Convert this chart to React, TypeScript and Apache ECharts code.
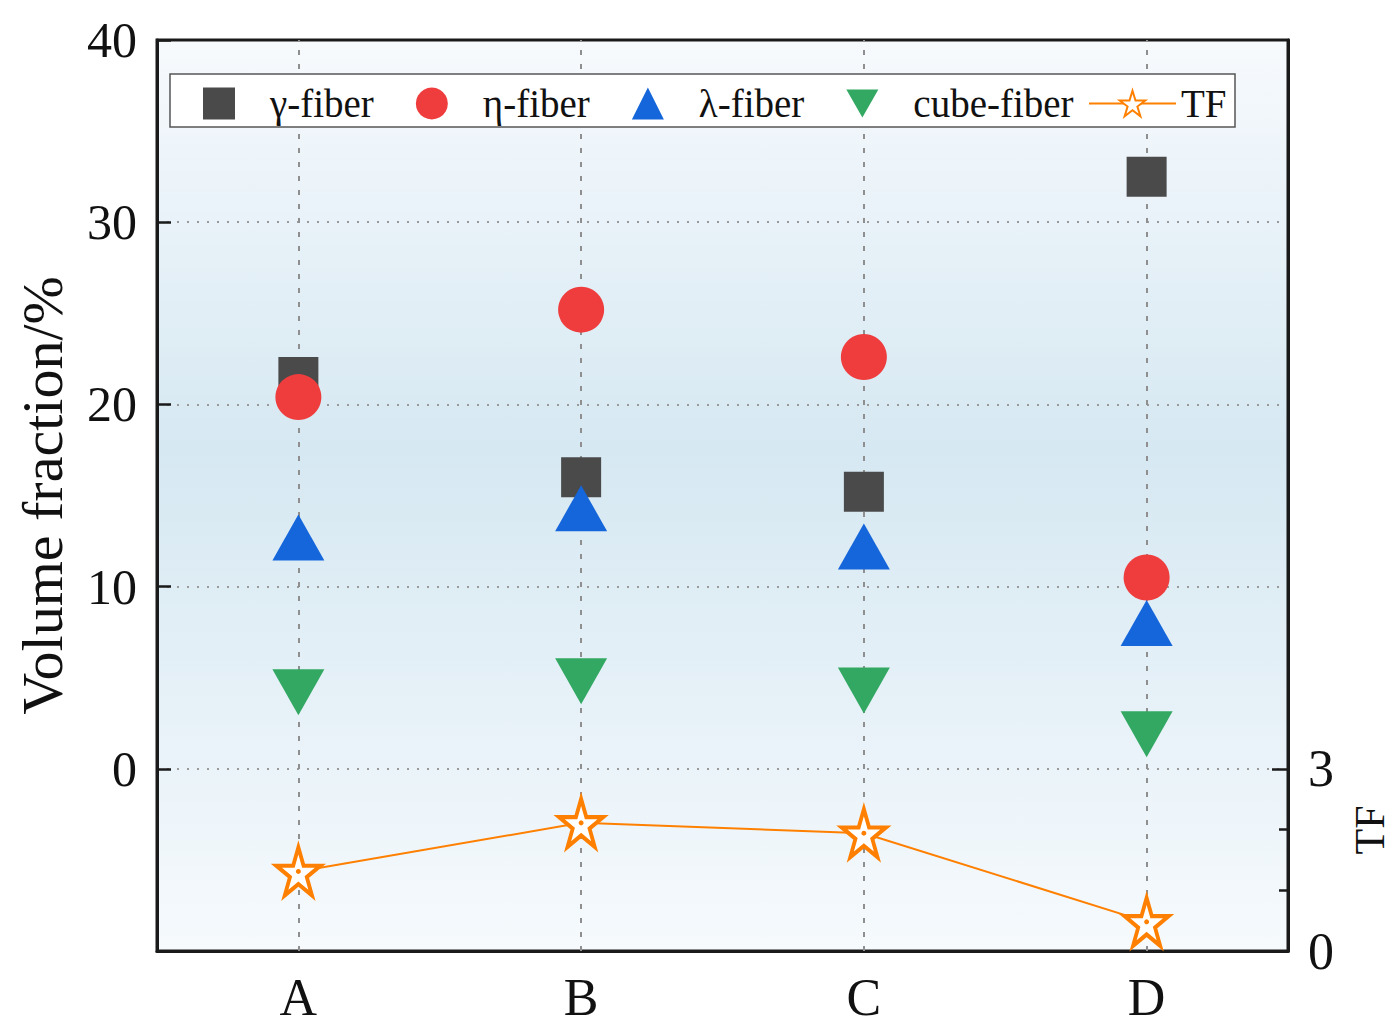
import React, { useEffect, useRef } from "react";
import * as echarts from "echarts";

const categories = ["A", "B", "C", "D"];
const gammaFiber = [21.5, 16.0, 15.2, 32.5];
const etaFiber = [20.4, 25.2, 22.6, 10.5];
const lambdaFiber = [12.7, 14.3, 12.2, 8.0];
const cubeFiber = [4.2, 4.8, 4.3, 1.9];
const tfValues = [1.31, 2.11, 1.94, 0.48];
const leftTicks = [0, 10, 20, 30, 40];
const rightTickLabels = [0, 3];
const rightMinorTicks = [1, 2];

const STAR =
  "path://M50,0 L61.2,34.5 L97.6,34.5 L68.2,55.9 L79.4,90.5 L50,69.1 L20.6,90.5 L31.8,55.9 L2.4,34.5 L38.8,34.5 Z";
const DOWN_TRI = "path://M0,0 L100,0 L50,88 Z";
const FONT = "Liberation Serif";

export default function App() {
  const ref = useRef<HTMLDivElement>(null);
  useEffect(() => {
    document.body.style.margin = "0";
    if (!ref.current) return;
    const chart = echarts.init(ref.current, null, { renderer: "svg" });
    const option: any = {
      animation: false,
      backgroundColor: "#ffffff",
      textStyle: { fontFamily: FONT },
      grid: {
        left: 157,
        right: 109,
        top: 40,
        bottom: 81,
        show: true,
        borderColor: "#1a1a1a",
        borderWidth: 3,
        backgroundColor: new echarts.graphic.LinearGradient(0, 0, 0, 1, [
          { offset: 0, color: "#f7fafd" },
          { offset: 0.45, color: "#d6e8f2" },
          { offset: 1, color: "#f6fafd" },
        ]),
      },
      legend: [
        {
          data: ["γ-fiber", "η-fiber", "λ-fiber", "cube-fiber"],
          left: 203,
          top: 84,
          padding: 0,
          orient: "horizontal",
          itemWidth: 32,
          itemHeight: 32,
          itemGap: 42,
          z: 30,
          textStyle: {
            fontFamily: FONT,
            fontSize: 39,
            color: "#111",
            padding: [0, 0, 0, 30],
          },
        },
        {
          data: ["TF"],
          left: 1088,
          top: 84,
          padding: 0,
          itemWidth: 87,
          itemHeight: 32,
          z: 30,
          textStyle: { fontFamily: FONT, fontSize: 39, color: "#111" },
        },
      ],
      xAxis: {
        type: "category",
        data: categories,
        boundaryGap: true,
        axisLine: { onZero: false, lineStyle: { color: "#1a1a1a", width: 3 } },
        axisTick: {
          alignWithLabel: true,
          inside: true,
          length: 15,
          lineStyle: { color: "#1a1a1a", width: 2.5 },
        },
        axisLabel: {
          fontFamily: FONT,
          fontSize: 52,
          color: "#111",
          margin: 20,
        },
        splitLine: { show: false },
      },
      yAxis: [
        {
          type: "value",
          min: -10,
          max: 40,
          interval: 10,
          position: "left",
          name: "Volume fraction/%",
          nameLocation: "middle",
          nameGap: 86,
          nameRotate: 90,
          nameTextStyle: { fontFamily: FONT, fontSize: 58, color: "#111" },
          axisLine: { show: true, lineStyle: { color: "#1a1a1a", width: 3 } },
          axisTick: {
            show: true,
            inside: true,
            length: 14,
            lineStyle: { color: "#1a1a1a", width: 2.5 },
          },
          axisLabel: {
            fontFamily: FONT,
            fontSize: 50,
            color: "#111",
            margin: 20,
            formatter: (v: number) => (leftTicks.includes(v) ? String(v) : ""),
          },
          splitLine: {
            show: true,
            showMinLine: false,
            showMaxLine: false,
            lineStyle: { color: "#9a9a9a", width: 2, type: [2, 8] },
          },
        },
        {
          type: "value",
          min: 0,
          max: 15,
          position: "right",
          axisLine: { show: true, lineStyle: { color: "#1a1a1a", width: 3 } },
          axisTick: {
            show: true,
            inside: true,
            length: 16,
            customValues: rightTickLabels,
            lineStyle: { color: "#1a1a1a", width: 2.5 },
          },
          axisLabel: {
            fontFamily: FONT,
            fontSize: 52,
            color: "#111",
            margin: 20,
            customValues: rightTickLabels,
          },
          splitLine: { show: false },
        },
        {
          type: "value",
          min: 0,
          max: 15,
          position: "right",
          axisLine: { show: false },
          axisTick: {
            show: true,
            inside: true,
            length: 9,
            customValues: rightMinorTicks,
            lineStyle: { color: "#1a1a1a", width: 2.5 },
          },
          axisLabel: { show: false },
          splitLine: { show: false },
        },
      ],
      graphic: [
        {
          type: "rect",
          z: 20,
          shape: { x: 170, y: 74, width: 1065, height: 53 },
          style: { fill: "#ffffff", stroke: "#555555", lineWidth: 1.5 },
        },
        {
          type: "text",
          x: 1370,
          y: 830,
          rotation: Math.PI / 2,
          style: {
            text: "TF",
            fontFamily: FONT,
            fontSize: 42,
            fill: "#111",
            align: "center",
            verticalAlign: "middle",
          },
        },
      ],
      series: [
        {
          name: "vgrid",
          type: "scatter",
          data: [],
          z: 1,
          silent: true,
          markLine: {
            silent: true,
            z: 1,
            symbol: "none",
            label: { show: false },
            lineStyle: { color: "#8f8f8f", width: 2, type: [5, 9] },
            data: categories.map((c) => ({ xAxis: c })),
          },
        },
        {
          name: "γ-fiber",
          type: "scatter",
          symbol: "rect",
          symbolSize: 40,
          itemStyle: { color: "#4a4a4a", opacity: 1 },
          data: gammaFiber,
          z: 3,
        },
        {
          name: "η-fiber",
          type: "scatter",
          symbol: "circle",
          symbolSize: 46,
          itemStyle: { color: "#ef3d3e", opacity: 1 },
          data: etaFiber,
          z: 4,
        },
        {
          name: "λ-fiber",
          type: "scatter",
          symbol: "triangle",
          symbolSize: [52, 46],
          itemStyle: { color: "#1566db", opacity: 1 },
          data: lambdaFiber,
          z: 5,
        },
        {
          name: "cube-fiber",
          type: "scatter",
          symbol: DOWN_TRI,
          symbolSize: [52, 46],
          itemStyle: { color: "#32a862", opacity: 1 },
          data: cubeFiber,
          z: 5,
        },
        {
          name: "TF",
          type: "line",
          yAxisIndex: 1,
          symbol: STAR,
          symbolSize: [44, 48],
          lineStyle: { color: "#ff8000", width: 2 },
          itemStyle: { color: "#ffffff", borderColor: "#ff8000", borderWidth: 4 },
          data: tfValues,
          z: 6,
        },
        {
          name: "TFdot",
          type: "scatter",
          yAxisIndex: 1,
          symbol: "circle",
          symbolSize: 5,
          itemStyle: { color: "#ff8000", opacity: 1 },
          data: tfValues,
          z: 7,
          silent: true,
        },
      ],
    };
    chart.setOption(option);
    return () => chart.dispose();
  }, []);
  return <div ref={ref} style={{ width: 1397, height: 1032 }} />;
}
